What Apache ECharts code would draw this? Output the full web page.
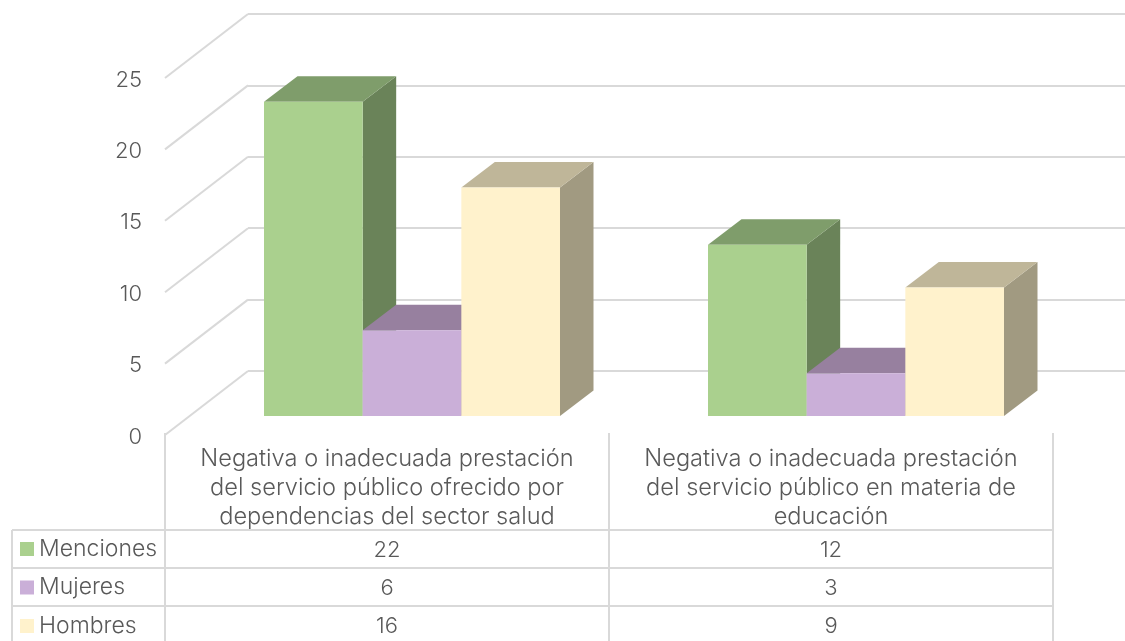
<!DOCTYPE html>
<html><head><meta charset="utf-8">
<style>html,body{margin:0;padding:0;background:#fff;overflow:hidden}#c{width:1125px;height:641px}</style>
<script src="https://cdn.jsdelivr.net/npm/echarts@6/dist/echarts.min.js"></script>
</head><body><div id="c"></div>
<script>
const categories = ["Negativa o inadecuada prestación\ndel servicio público ofrecido por\ndependencias del sector salud",
                    "Negativa o inadecuada prestación\ndel servicio público en materia de\neducación"];
const seriesNames = ["Menciones", "Mujeres", "Hombres"];
const menciones = [22, 12];
const mujeres = [6, 3];
const hombres = [16, 9];
const yTicks = [0, 5, 10, 15, 20, 25];

const values = [menciones, mujeres, hombres];
const faces = [
  {front:"#AAD08E", top:"#7F9D6B", side:"#6A8359"},
  {front:"#CAAFD8", top:"#97809F", side:"#7F6C88"},
  {front:"#FFF2CC", top:"#BFB699", side:"#A19A81"}
];
const FONT = "Inter", TEXT = "#595959", LINE = "#D9D9D9", FS = 22, FS_TEXT = 23.6, FS_LEG = 23;
const DEPTH = [33.5, -25.5], WALL = [83, -64];

function barItem(si){
  return function(params, api){
    const band = api.size([1,0])[0], w = band/4.5;
    const c = api.coord([api.value(0), api.value(1)]);
    const base = api.coord([api.value(0), 0])[1];
    const x0 = c[0] - w*1.5 + si*w, x1 = x0 + w, t = c[1];
    const [dx,dy] = DEPTH, f = faces[si];
    return {type:"group", children:[
      {type:"polygon", shape:{points:[[x1,t],[x1+dx,t+dy],[x1+dx,base+dy],[x1,base]]}, style:{fill:f.side}},
      {type:"polygon", shape:{points:[[x0,t],[x1,t],[x1+dx,t+dy],[x0+dx,t+dy]]}, style:{fill:f.top}},
      {type:"rect", shape:{x:x0,y:t,width:w,height:base-t}, style:{fill:f.front}}
    ]};
  };
}
const plainX = (gridIndex, extra) => Object.assign({type:"category", gridIndex, data:categories,
  axisLine:{show:false}, axisTick:{show:false}, axisLabel:{show:false}, splitLine:{show:false}}, extra||{});
const plainY = (gridIndex, extra) => Object.assign({type:"value", gridIndex, min:0, max:25, interval:5,
  axisLine:{show:false}, axisTick:{show:false}, axisLabel:{show:false}, splitLine:{show:false}}, extra||{});
const gridLine = {show:true, lineStyle:{color:LINE, width:2}};

const series = [];
series.push({type:"custom", name:"wall", xAxisIndex:0, yAxisIndex:0, silent:true, z:1, clip:false,
  data:yTicks.map(v=>[0,v]),
  renderItem(p,api){
    const y = api.coord([0,api.value(1)])[1], x = p.coordSys.x;
    return {type:"line", shape:{x1:x,y1:y,x2:x+WALL[0],y2:y+WALL[1]}, style:{stroke:LINE,lineWidth:2,fill:null}};
  }});
seriesNames.forEach((n,si)=>{
  series.push({type:"custom", name:n, xAxisIndex:2, yAxisIndex:2, z:3+si, clip:false,
    itemStyle:{color:faces[si].front},
    data:values[si].map((v,i)=>[i,v]), renderItem:barItem(si)});
});
series.push({type:"custom", name:"cells", xAxisIndex:4, yAxisIndex:4, silent:true, z:8, clip:false,
  data:values.flatMap((r,ri)=>r.map((v,i)=>[i,ri,v])),
  renderItem(p,api){
    const c = api.coord([api.value(0),api.value(1)]);
    return {type:"text", x:c[0], y:c[1]+1, style:{text:String(api.value(2)), fill:TEXT,
      font:"300 "+FS+"px "+FONT, textAlign:"center", textVerticalAlign:"middle"}};
  }});

const G = o => Object.assign({outerBoundsMode:"none"}, o);
const chart = echarts.init(document.getElementById("c"), null, {renderer:"canvas"});
chart.setOption({
  animation:false, backgroundColor:"#fff",
  grid:[
    G({left:165,width:888,top:78,height:357}),
    G({left:248,width:877,top:14,height:357}),
    G({left:190,width:888,top:59,height:357}),
    G({left:165,width:888,top:433,height:97}),
    G({left:165,width:888,top:530,height:114}),
    G({left:12,width:153,top:530,height:114})
  ],
  legend:{orient:"vertical", left:15, top:531, height:120, itemWidth:14, itemHeight:14, itemGap:12.5, icon:"rect", selectedMode:false,
    data:seriesNames, itemStyle:{borderWidth:0},
    textStyle:{color:TEXT,fontFamily:FONT,fontWeight:300,fontSize:FS_LEG,lineHeight:26}},
  xAxis:[
    plainX(0), plainX(1), plainX(2),
    plainX(3,{position:"top",
      axisLabel:{show:true, inside:true, margin:11, interval:0, color:TEXT, fontFamily:FONT, fontWeight:300, fontSize:FS_TEXT, lineHeight:29, align:"center", verticalAlign:"top"},
      splitLine:gridLine}),
    plainX(4,{splitLine:gridLine}),
    {type:"category",gridIndex:5,data:[""],axisLine:{show:false},axisTick:{show:false},axisLabel:{show:false},splitLine:gridLine}
  ],
  yAxis:[
    plainY(0,{axisLabel:{show:true, margin:23, verticalAlign:"top", lineHeight:4, color:TEXT, fontFamily:FONT, fontWeight:300, fontSize:FS}}),
    plainY(1,{splitLine:gridLine}),
    plainY(2),
    plainY(3),
    {type:"category",gridIndex:4,inverse:true,data:seriesNames,axisLine:{show:false},axisTick:{show:false},axisLabel:{show:false},splitLine:gridLine},
    {type:"category",gridIndex:5,inverse:true,data:seriesNames,axisLine:{show:false},axisTick:{show:false},axisLabel:{show:false},splitLine:gridLine}
  ],
  series
});
</script></body></html>
